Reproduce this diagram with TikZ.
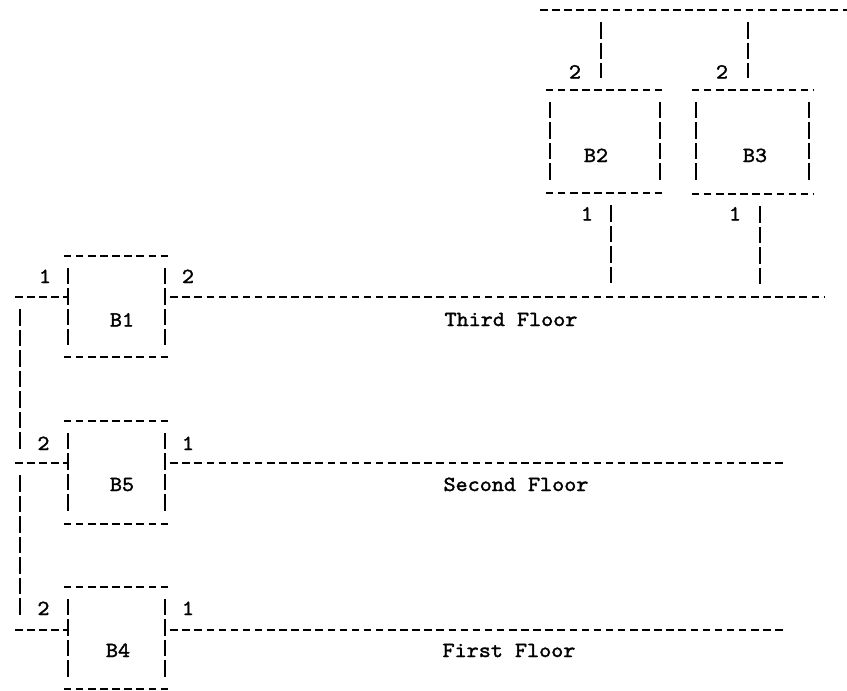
\documentclass[tikz,border=0pt]{standalone}
\usepackage{fontspec}
\newfontfamily\courfont{lmmono10-regular.otf}[FakeStretch=1.07,FakeBold=1.6]
\begin{document}
\begin{tikzpicture}[x=1pt,y=-1pt,
  hl/.style={line width=1.6pt, dash pattern=on 7.5pt off 4.6pt},
  vl/.style={line width=1.6pt, dash pattern=on 16.5pt off 4pt},
  box/.style 2 args={draw=none, inner sep=0pt, minimum width=#1, minimum height=#2},
  txt/.style={anchor=base, inner sep=0pt, font=\fontsize{21.5}{24}\selectfont\courfont}]
\useasboundingbox (0,0) rectangle (847,691);

% boxes
\node[box={97pt}{101pt}] (B1) at (116.5,306.5) {};
\node[box={97pt}{103pt}] (B5) at (116.5,472.5) {};
\node[box={97pt}{102pt}] (B4) at (116.5,638) {};
\node[box={110pt}{103pt}] (B2) at (605,141.5) {};
\node[box={113pt}{104pt}] (B3) at (752.5,142) {};

\foreach \b in {B1,B2,B3,B4,B5}{
  \draw[hl] ([xshift=-4pt]\b.north west) -- ([xshift=4pt]\b.north east);
  \draw[hl] ([xshift=-4pt]\b.south west) -- ([xshift=4pt]\b.south east);
  \draw[vl] ([yshift=-12pt]\b.north west) -- ([yshift=12pt]\b.south west);
  \draw[vl] ([yshift=-12pt]\b.north east) -- ([yshift=12pt]\b.south east);
}

% box labels
\node[txt] (tB1) at (122,326.5) {B1};
\node[txt] (tB5) at (122,491) {B5};
\node[txt] (tB4) at (118,657) {B4};
\node[txt] (tB2) at (596,162) {B2};
\node[txt] (tB3) at (755,162) {B3};

% buses
\coordinate (TB) at (540,10);
\coordinate (TBe) at (847,10);
\coordinate (F3) at (825,297);
\coordinate (F2) at (787,463);
\coordinate (F1) at (787,630);
\draw[hl] (TB) -- (TBe);
\draw[hl] ([xshift=5pt]B1.east |- F3) -- (F3);
\draw[hl] ([xshift=5pt]B5.east |- F2) -- (F2);
\draw[hl] ([xshift=5pt]B4.east |- F1) -- (F1);

\node[txt] (l3) at (511,326) {Third Floor};
\node[txt] (l2) at (516,491) {Second Floor};
\node[txt] (l1) at (509,657) {First Floor};

% ports of B2, B3
\coordinate (B2p2) at ([xshift=-4pt]B2.north);
\coordinate (B2p1) at ([xshift=6pt]B2.south);
\coordinate (B3p2) at ([xshift=-4.5pt]B3.north);
\coordinate (B3p1) at ([xshift=7.5pt]B3.south);
\draw[vl] ([yshift=-12pt]B2p2 |- TB) -- ([yshift=12pt]B2p2);
\draw[vl] ([yshift=-12pt]B3p2 |- TB) -- ([yshift=12pt]B3p2);
\draw[vl] ([yshift=-12pt]B2p1) -- ([yshift=12pt]B2p1 |- F3);
\draw[vl] ([yshift=-12pt]B3p1) -- ([yshift=12pt]B3p1 |- F3);

\node[txt] (n22) at (575,78.5) {2};
\node[txt] (n21) at (587,220.5) {1};
\node[txt] (n32) at (722,78.5) {2};
\node[txt] (n31) at (735,220.5) {1};

% left riser
\coordinate (L3) at (20,297);
\coordinate (L2) at (20,463);
\coordinate (L1) at (20,630);
\draw[hl] ([xshift=-5pt]L3) -- (B1.west |- L3);
\draw[hl] ([xshift=-5pt]L2) -- (B5.west |- L2);
\draw[hl] ([xshift=-5pt]L1) -- (B4.west |- L1);
\draw[vl] ([yshift=-12pt]L3) -- ([yshift=12pt]L2);
\draw[vl] ([yshift=-12pt]L2) -- ([yshift=12pt]L1);

\node[txt] (n11) at (45,283) {1};
\node[txt] (n12) at (188,283) {2};
\node[txt] (n52) at (43.5,450) {2};
\node[txt] (n51) at (188,450) {1};
\node[txt] (n42) at (43.5,615) {2};
\node[txt] (n41) at (188,615) {1};
\end{tikzpicture}
\end{document}
